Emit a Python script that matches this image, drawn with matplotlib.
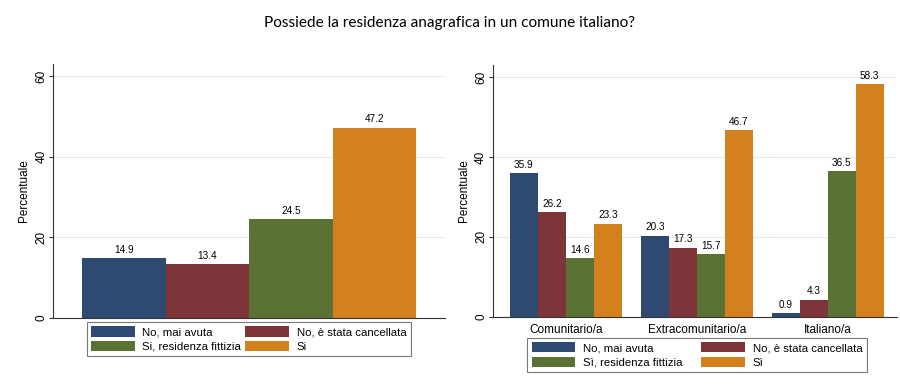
import matplotlib.pyplot as plt
import matplotlib.font_manager as fm
import numpy as np
from matplotlib.patches import Patch

# data
series_left = ["No, mai avuta", "No, è stata cancellata", "Si, residenza fittizia", "Si"]
series_right = ["No, mai avuta", "No, è stata cancellata", "Sì, residenza fittizia", "Sì"]
totale = [14.9, 13.4, 24.5, 47.2]

gruppi = ["Comunitario/a", "Extracomunitario/a", "Italiano/a"]
no_mai = [35.9, 20.3, 0.9]
no_canc = [26.2, 17.3, 4.3]
si_fitt = [14.6, 15.7, 36.5]
si = [23.3, 46.7, 58.3]

colors = ["#2e4a72", "#7e3539", "#5a7335", "#d3801f"]
yticks = [0, 20, 40, 60]

# keep the regular Liberation Sans, not the narrow cut
fm.fontManager.ttflist = [f for f in fm.fontManager.ttflist if "Narrow" not in f.fname]
fm.fontManager._findfont_cached.cache_clear()
plt.rcParams["font.family"] = ["Liberation Sans", "DejaVu Sans"]


def style_axes(ax):
    ax.set_ylim(0, 63)
    ax.set_yticks(yticks)
    ax.set_yticklabels([str(t) for t in yticks], rotation=90, va="center", fontsize=8.5)
    ax.set_ylabel("Percentuale", fontsize=8.5, labelpad=4)
    ax.grid(axis="y", color="#e8e8e8", linewidth=0.8)
    ax.set_axisbelow(True)
    for s in ["top", "right"]:
        ax.spines[s].set_visible(False)
    ax.spines["left"].set_color("#333333")
    ax.spines["bottom"].set_color("#333333")
    ax.spines["left"].set_linewidth(0.8)
    ax.spines["bottom"].set_linewidth(0.8)
    ax.tick_params(axis="y", length=3, color="#333333", pad=1)


def add_legend(fig, labels, box):
    handles = [Patch(facecolor=c, edgecolor="none") for c in colors]
    order = [0, 2, 1, 3]
    leg = fig.legend([handles[i] for i in order], [labels[i] for i in order],
                     ncol=2, loc="lower left", bbox_to_anchor=box, mode="expand",
                     fontsize=8.2, handlelength=3.8, handleheight=1.0,
                     frameon=True, fancybox=False, borderpad=0.4,
                     labelspacing=0.3, columnspacing=1.5, handletextpad=0.7)
    leg.get_frame().set_edgecolor("#555555")
    leg.get_frame().set_linewidth(0.8)


fig = plt.figure(figsize=(9, 3.88), dpi=100)
fig.text(0.5, 0.94, "Possiede la residenza anagrafica in un comune italiano?",
         ha="center", va="center", fontsize=11.1, family="Lato")

# left panel
ax1 = fig.add_axes([0.0589, 0.1804, 0.4356, 0.6546])
x = np.arange(len(totale))
bars = ax1.bar(x, totale, width=1.0, color=colors)
for b, v in zip(bars, totale):
    ax1.text(b.get_x() + b.get_width() / 2, v + 0.8, f"{v:.1f}",
             ha="center", va="bottom", fontsize=7.2)
ax1.set_xlim(-0.847, 3.847)
ax1.set_xticks([])
style_axes(ax1)
add_legend(fig, series_left, (0.09, 0.067, 0.373, 0.095))

# right panel
ax2 = fig.add_axes([0.5474, 0.1838, 0.449, 0.6487])
gx = np.arange(len(gruppi))
w = 0.214
for i, vals in enumerate([no_mai, no_canc, si_fitt, si]):
    pos = gx + (i - 1.5) * w
    bs = ax2.bar(pos, vals, width=w, color=colors[i])
    for b, v in zip(bs, vals):
        ax2.text(b.get_x() + b.get_width() / 2, v + 0.8, f"{v:.1f}",
                 ha="center", va="bottom", fontsize=7.2)
ax2.set_xlim(-0.56, 2.527)
ax2.set_xticks(gx)
ax2.set_xticklabels(gruppi, fontsize=8.5)
ax2.tick_params(axis="x", length=0, pad=5)
style_axes(ax2)
add_legend(fig, series_right, (0.5797, 0.026, 0.390, 0.096))

fig.savefig("out.png", dpi=100, facecolor="white")
